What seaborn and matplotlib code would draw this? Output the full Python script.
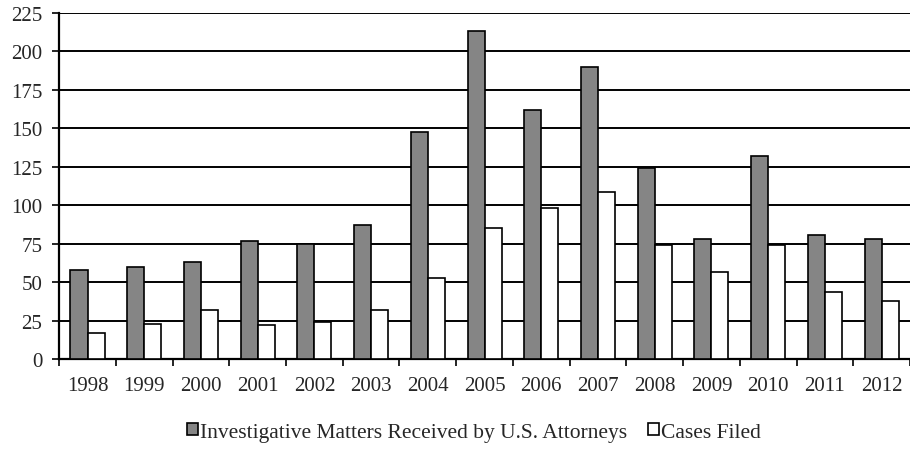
import numpy as np
import pandas as pd
import matplotlib
matplotlib.use("Agg")
import matplotlib.pyplot as plt
import seaborn as sns

years = ['1998', '1999', '2000', '2001', '2002', '2003', '2004', '2005',
         '2006', '2007', '2008', '2009', '2010', '2011', '2012']
investigative = [58, 60, 63, 77, 75, 87, 148, 213, 162, 190, 124, 78, 132, 81, 78]
cases_filed = [17, 23, 32, 22, 24, 32, 53, 85, 98, 109, 74, 57, 74, 44, 38]
series_names = ['Investigative Matters Received by U.S. Attorneys', 'Cases Filed']
y_ticks = [0, 25, 50, 75, 100, 125, 150, 175, 200, 225]

df = pd.DataFrame({
    'Year': years * 2,
    'Count': investigative + cases_filed,
    'Series': [series_names[0]] * len(years) + [series_names[1]] * len(years),
})

sns.set_style("white")
plt.rcParams['font.family'] = ['Liberation Serif', 'DejaVu Serif']

fig = plt.figure(figsize=(9.1, 4.52), dpi=100)
ax = fig.add_axes([0.065, 0.203, 0.935, 0.766])

palette = {series_names[0]: '#858585', series_names[1]: 'white'}
sns.barplot(data=df, x='Year', y='Count', hue='Series', order=years,
            hue_order=series_names, palette=palette, width=0.6,
            edgecolor='black', linewidth=1.2, saturation=1, ax=ax, zorder=3)

ax.set_ylim(0, 225)
ax.set_xlim(-0.5, len(years) - 0.5)
ax.set_yticks(y_ticks)
ax.yaxis.grid(True, color='black', linewidth=1.4)
ax.set_axisbelow(True)
ax.set_xlabel('')
ax.set_ylabel('')

for side in ['top', 'right']:
    ax.spines[side].set_visible(False)
for side in ['left', 'bottom']:
    ax.spines[side].set_color('black')
    ax.spines[side].set_linewidth(1.6)

ax.tick_params(axis='y', which='major', direction='out', length=5, width=1.2,
               color='black', pad=7, labelsize=15, left=True)
ax.tick_params(axis='x', which='major', length=0, pad=12, labelsize=15)
ax.set_xticks(np.arange(-0.5, len(years), 1.0), minor=True)
ax.tick_params(axis='x', which='minor', direction='out', length=5, width=1.2,
               color='black', bottom=True)

handles, labels = ax.get_legend_handles_labels()
ax.get_legend().remove()
fig.legend(handles, labels, loc='center', bbox_to_anchor=(0.521, 0.042),
           ncol=2, frameon=False, fontsize=15.5, handlelength=0.5,
           handleheight=0.5, handletextpad=0.1, columnspacing=1.0)

fig.savefig('out.png', dpi=100)
